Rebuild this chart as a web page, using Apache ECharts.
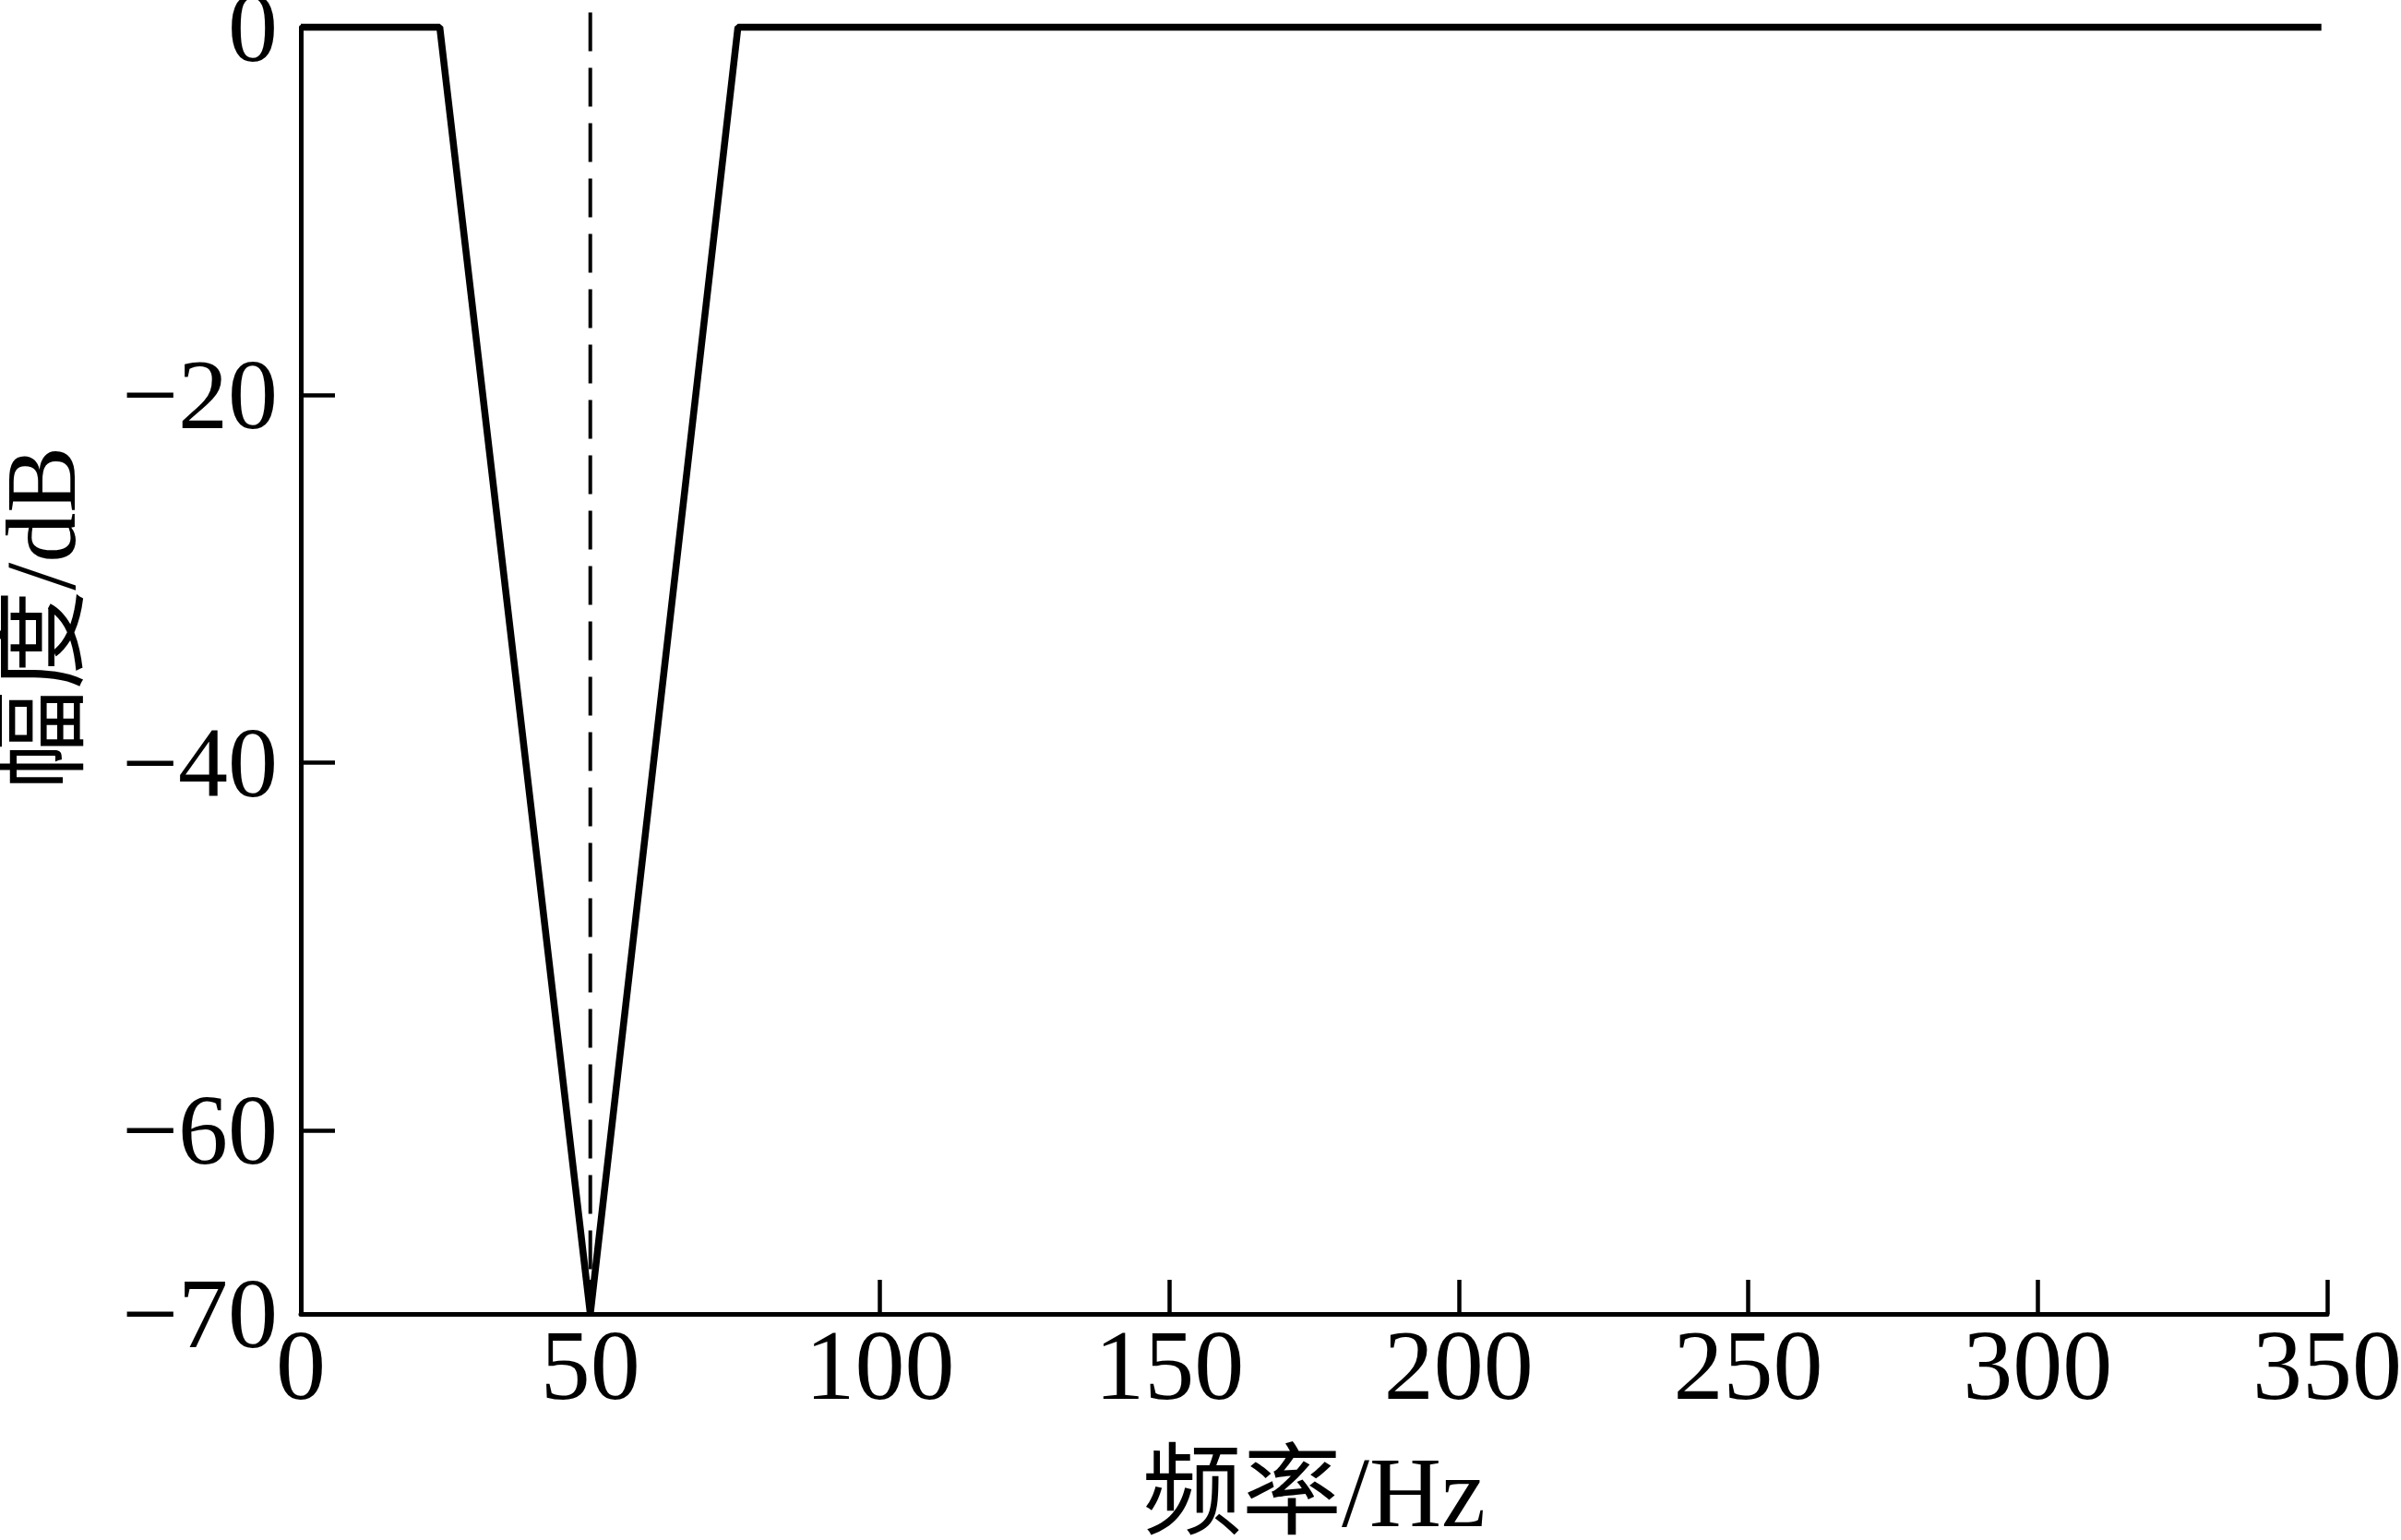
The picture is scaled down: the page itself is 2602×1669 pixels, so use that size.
<!DOCTYPE html>
<html>
<head>
<meta charset="utf-8">
<script src="https://cdn.jsdelivr.net/npm/echarts@6/dist/echarts.min.js"></script>
<style>
html,body{margin:0;padding:0;background:#fff;}
#chart{width:2602px;height:1669px;}
</style>
</head>
<body>
<div id="chart"></div>
<script>
// Data
const freq = [0, 24, 50, 75.5, 349];
const amp = [0, 0, -70, 0, 0];
const notchFreq = [50, 50];
const notchAmp = [0.8, -70];
const yTickValues = [0, -20, -40, -60, -70];
const xName = '频率/Hz';
const yName = '幅度/dB';

const FONT = "'Liberation Serif', 'Times New Roman', 'Noto Sans CJK SC', serif";

const chart = echarts.init(document.getElementById('chart'), null, {renderer: 'canvas'});
const mainData = freq.map((f, i) => [f, amp[i]]);
const notchData = notchFreq.map((f, i) => [f, notchAmp[i]]);

chart.setOption({
  backgroundColor: '#fff',
  animation: false,
  grid: {left: 326, right: 80, top: 29.5, bottom: 245, containLabel: false, outerBoundsMode: 'none'},
  xAxis: {
    type: 'value', min: 0, max: 350, interval: 50,
    name: xName, nameLocation: 'middle', nameGap: 148,
    nameTextStyle: {fontFamily: FONT, fontSize: 108, color: '#000'},
    axisLine: {show: true, onZero: false, lineStyle: {color: '#000', width: 5}},
    axisTick: {show: true, inside: true, length: 37, lineStyle: {color: '#000', width: 4.5}},
    axisLabel: {fontFamily: FONT, fontSize: 108, color: '#000', margin: 10},
    splitLine: {show: false}
  },
  yAxis: {
    type: 'value', min: -70, max: 0,
    name: yName, nameLocation: 'middle', nameGap: 219, nameRotate: 90,
    nameTextStyle: {fontFamily: FONT, fontSize: 108, color: '#000', padding: [0, 0, 0, 114]},
    axisLine: {show: true, onZero: false, lineStyle: {color: '#000', width: 5}},
    axisTick: {show: true, inside: true, length: 37, customValues: yTickValues, lineStyle: {color: '#000', width: 4.5}},
    axisLabel: {fontFamily: FONT, fontSize: 108, color: '#000', margin: 25, customValues: yTickValues,
      formatter: v => '{a|' + (v < 0 ? '\u2212' + Math.abs(v) : String(v)) + '}',
      rich: {a: {fontFamily: FONT, fontSize: 108, color: '#000', padding: [16, 0, 0, 0]}}},
    splitLine: {show: false}
  },
  series: [
    {
      type: 'line', data: notchData, symbol: 'none', clip: false, silent: true,
      lineStyle: {color: '#000', width: 4, type: [42, 18]}, z: 2
    },
    {
      type: 'line', data: mainData, symbol: 'none', clip: false, silent: true,
      lineStyle: {color: '#000', width: 7.5}, z: 3
    }
  ]
});
</script>
</body>
</html>
